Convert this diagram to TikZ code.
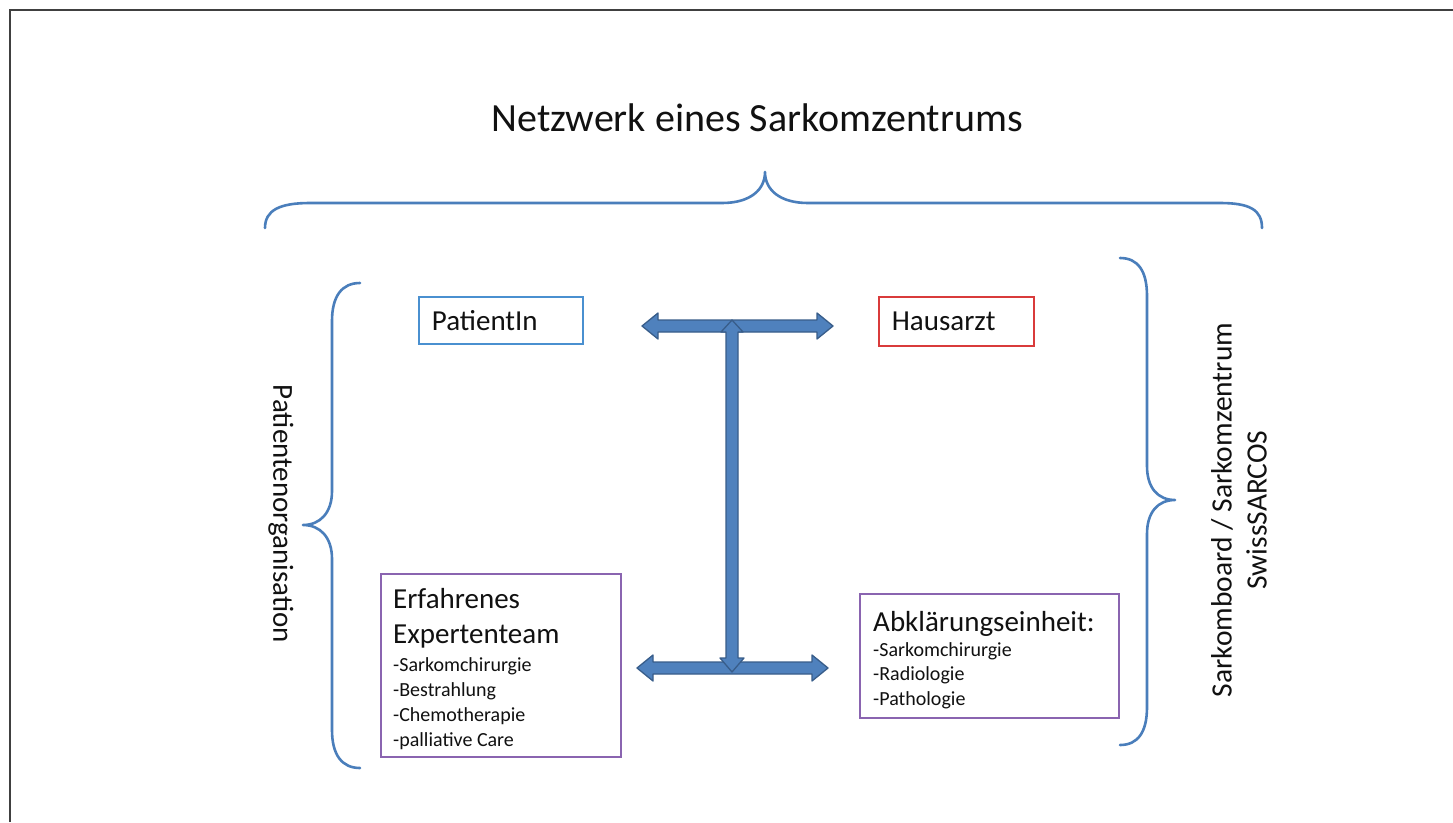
\documentclass[tikz,border=0pt]{standalone}
\usepackage{fontspec}
\setmainfont{Carlito}
\definecolor{bracec}{HTML}{4A7EBB}
\definecolor{arrfill}{HTML}{4F81BD}
\definecolor{arrdraw}{HTML}{385D8A}
\definecolor{pblue}{HTML}{4A90D0}
\definecolor{hred}{HTML}{D93B3B}
\definecolor{purp}{HTML}{8A64B0}
\definecolor{txt}{HTML}{111111}
\tikzset{
  brace/.style={draw=bracec, line width=2.6, line cap=round, line join=round},
  box/.style={draw, line width=1.8, anchor=north west, align=left, inner xsep=13, inner ysep=0,
    text=txt, font=\fontsize{29}{35}\selectfont},
  frame/.style={draw, line width=1.8, anchor=north west, inner sep=0},
  boxtext/.style={anchor=base west, inner sep=0, text=txt},
  blockarrow/.style={fill=arrfill, draw=arrdraw, line width=1.3, line join=round},
  label/.style={text=txt}
}
\begin{document}
\begin{tikzpicture}[x=1pt,y=-1pt]
\useasboundingbox (0,0) rectangle (1453,822);
\fill[white] (0,0) rectangle (1453,822);
% frame
\draw[line width=2, black!75] (10,822) -- (10,10) -- (1453,10);
% title
\node[label, font=\fontsize{40}{48}\selectfont] (title) at (757,118) {Netzwerk eines Sarkomzentrums};
% top brace
\draw[brace] (265,228) .. controls (265,210) and (280,203) .. (310,203) -- (722,203)
  .. controls (750,203) and (765,190) .. (765,172)
  .. controls (765,190) and (780,203) .. (808,203) -- (1220,203)
  .. controls (1250,203) and (1262,210) .. (1262,228);
% left brace
\draw[brace] (360,283) .. controls (342,283) and (332,296) .. (332,321) -- (332,491)
  .. controls (332,513) and (320,525) .. (303,525)
  .. controls (320,525) and (332,537) .. (332,559) -- (332,730)
  .. controls (332,755) and (342,768) .. (360,768);
% right brace
\draw[brace] (1120,258) .. controls (1138,258) and (1147,271) .. (1147,296) -- (1147,466)
  .. controls (1147,488) and (1158,500) .. (1175,500)
  .. controls (1158,500) and (1147,512) .. (1147,534) -- (1147,707)
  .. controls (1147,732) and (1138,745) .. (1120,745);
% side labels
\node[label, rotate=-90, font=\fontsize{29}{35}\selectfont] (porg) at (281,514) {Patientenorganisation};
\node[label, rotate=90, align=center, font=\fontsize{29.5}{35}\selectfont] (sboard) at (1239,510) {Sarkomboard / Sarkomzentrum\\SwissSARCOS};
% single-line boxes
\node[box, draw=pblue, text width=138, minimum height=47] (pat) at (418,296) {PatientIn};
\node[box, draw=hred, text width=129, minimum height=49] (haus) at (878,296) {Hausarzt};
% multi-line boxes
\node[frame, draw=purp, minimum width=240, minimum height=183] (team) at (380,573) {};
\node[boxtext] (teamtxt) at (393,608) {\vtop{\fontsize{29}{35}\selectfont
  \hbox{Erfahrenes}\hbox{Expertenteam}\fontsize{20}{25}\selectfont\vskip3pt
  \hbox{-Sarkomchirurgie}\hbox{-Bestrahlung}\hbox{-Chemotherapie}\hbox{-palliative Care}}};
\node[frame, draw=purp, minimum width=259, minimum height=124] (abkl) at (859,593) {};
\node[boxtext] (abkltxt) at (873,631) {\vtop{\fontsize{29}{35}\selectfont
  \hbox{Abklärungseinheit:}\fontsize{20}{24.5}\selectfont\vskip0.5pt
  \hbox{-Sarkomchirurgie}\hbox{-Radiologie}\hbox{-Pathologie}}};
% block arrows
\draw[blockarrow] (642,326) -- (658,313) -- (658,320) -- (817,320) -- (817,313) -- (833,326)
  -- (817,339) -- (817,332) -- (658,332) -- (658,339) -- cycle;
\draw[blockarrow] (637,668) -- (653,655) -- (653,662) -- (812,662) -- (812,655) -- (828,668)
  -- (812,681) -- (812,674) -- (653,674) -- (653,681) -- cycle;
\draw[blockarrow] (732,320) -- (743,332) -- (738,332) -- (738,658) -- (744,658) -- (732,672)
  -- (720,658) -- (726,658) -- (726,332) -- (721,332) -- cycle;
\end{tikzpicture}
\end{document}
